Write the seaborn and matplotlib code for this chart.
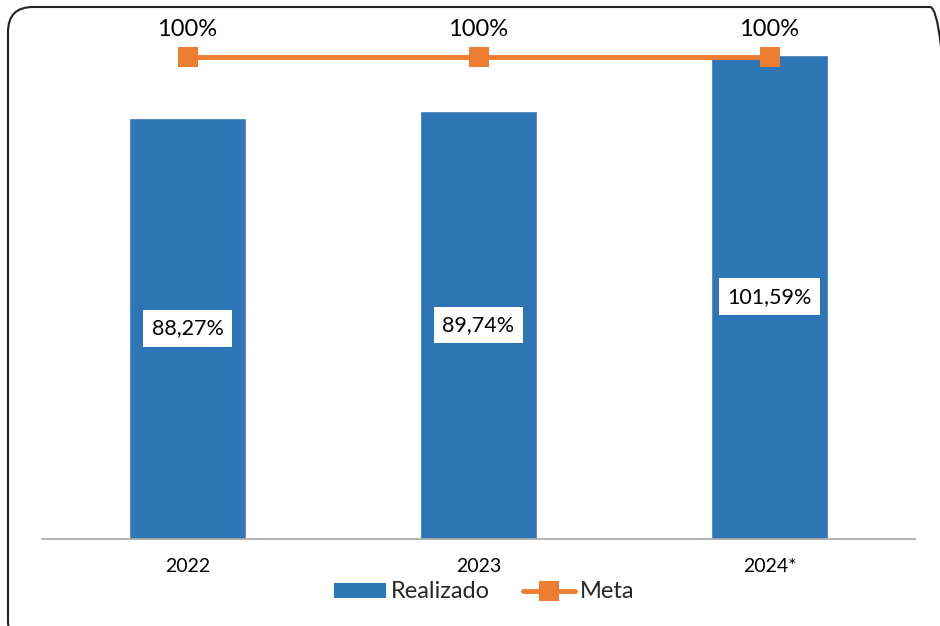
import numpy as np
import pandas as pd
import seaborn as sns
import matplotlib.pyplot as plt
from matplotlib.patches import FancyBboxPatch, Patch
from matplotlib.lines import Line2D

# ── Dados
anos = ["2022", "2023", "2024*"]
realizado = [88.27, 89.74, 101.59]
meta = [100, 100, 100]
rotulos_realizado = ["88,27%", "89,74%", "101,59%"]
rotulos_meta = ["100%", "100%", "100%"]

AZUL = "#2E75B6"
LARANJA = "#ED7D31"

sns.set_theme(style="white")
plt.rcParams["font.family"] = ["Lato", "DejaVu Sans"]

df = pd.DataFrame({"ano": anos, "realizado": realizado})

W, H = 940, 626
fig = plt.figure(figsize=(W / 100, H / 100), dpi=100)
ax = fig.add_axes([42 / W, 1 - 538.7 / H, 873 / W, 518.7 / H])

# --- Barras (Realizado)
sns.barplot(data=df, x="ano", y="realizado", color=AZUL, width=0.4,
            saturation=1, ax=ax)
ax.set_ylim(0, 108.94)
ax.set_xlim(-0.5, 2.5)

for bar, txt in zip(ax.patches, rotulos_realizado):
    cx = bar.get_x() + bar.get_width() / 2
    ax.text(cx, bar.get_height() / 2, txt, ha="center", va="center",
            fontsize=15.5, color="black",
            bbox=dict(facecolor="white", edgecolor="none", pad=6))

# --- Linha (Meta) em eixo secundario
ax2 = ax.twinx()
sns.lineplot(x=np.arange(len(anos)), y=meta, color=LARANJA, linewidth=3.5,
             marker="s", markersize=15, markeredgewidth=0, ax=ax2)
ax2.set_ylim(0, 107.6)
for i, txt in enumerate(rotulos_meta):
    ax2.annotate(txt, (i, meta[i]), xytext=(0, 12), textcoords="offset points",
                 ha="center", va="bottom", fontsize=17, color="black")

for a in (ax, ax2):
    a.set_xlabel("")
    a.set_ylabel("")
    a.set_yticks([])
    for s in ["top", "right", "left"]:
        a.spines[s].set_visible(False)
ax2.spines["bottom"].set_visible(False)
ax.spines["bottom"].set_color("#A6A6A6")
ax.spines["bottom"].set_linewidth(1.2)
ax.tick_params(axis="x", length=0, labelsize=14, pad=14, colors="black")

# --- Legenda
handles = [Patch(facecolor=AZUL, edgecolor="none"),
           Line2D([0], [0], color=LARANJA, lw=3.5, marker="s", markersize=14,
                  markeredgewidth=0)]
fig.legend(handles=handles, labels=["Realizado", "Meta"], loc="center",
           bbox_to_anchor=(484 / W, 1 - 592 / H), ncol=2, frameon=False,
           fontsize=17, handlelength=2.2, handleheight=0.6,
           columnspacing=1.4, handletextpad=0.2)

# --- Moldura arredondada
moldura = FancyBboxPatch((8, -20), 947, 639,
                         boxstyle="round,pad=0,rounding_size=25",
                         transform=None, facecolor="none",
                         edgecolor="#222222", linewidth=1.5)
fig.patches.append(moldura)

fig.savefig("out.png", dpi=100)
